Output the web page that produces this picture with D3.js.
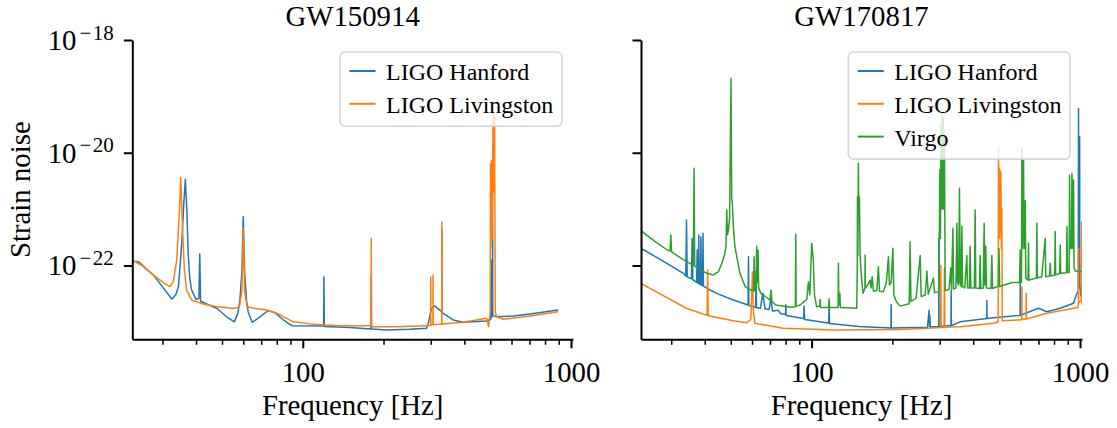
<!DOCTYPE html>
<html><head><meta charset="utf-8">
<script src="https://cdn.jsdelivr.net/npm/d3@7"></script>
<style>
body{margin:0;background:#fff}
text{font-family:"Liberation Serif","Times New Roman",serif;fill:#000}
</style>
</head><body>
<svg id="c" width="1117" height="428"></svg>
<script>
// ---------- data (frequency in Hz, strain noise) ----------
const events = ["GW150914", "GW170817"];
const detectorNames = ["LIGO Hanford", "LIGO Livingston", "Virgo"];
const detectorColors = ["#1f77b4", "#ff7f0e", "#2ca02c"];
const xTicks = [100, 1000];
const xMinorTicks = [30,40,50,60,70,80,90,200,300,400,500,600,700,800,900];
const yTicks = [1e-18, 1e-20, 1e-22];
const yTickExponents = ["−18", "−20", "−22"];
const xDomain = [23.15, 1017];
const yDomain = [4.9e-24, 1e-18];

const hanford150914 = [[23.15,1.17e-22],[24.1,1.18e-22],[24.7,1.12e-22],[26.0,8.8e-23],[27.7,6.8e-23],[30.2,4.0e-23],[32.5,2.54e-23],[33.6,3.0e-23],[34.4,4.2e-23],[35.4,2.5e-22],[36.0,1.2e-21],[36.5,3.38e-21],[37.0,9.0e-22],[37.4,1.6e-22],[37.9,6e-23],[38.5,3.7e-23],[40.0,2.5e-23],[41.0,2.6e-23],[41.3,1.6e-22],[41.6,2.3e-23],[42.0,2.28e-23],[43.8,2.07e-23],[47.8,1.74e-23],[52.0,1.23e-23],[55.6,1.0e-23],[57.2,1.4e-23],[58.3,2.44e-23],[59.3,8e-23],[60.0,7.3e-22],[60.7,8e-23],[61.7,2.4e-23],[62.6,1.5e-23],[64.8,9.8e-24],[69.3,1.23e-23],[74.3,1.58e-23],[78.8,1.45e-23],[84.6,1.08e-23],[90.9,8.55e-24],[119.6,8.4e-24],[119.9,6.3e-23],[120.3,8.3e-24],[150,7.9e-24],[179.6,7.5e-24],[180,6.6e-23],[180.4,7.5e-24],[205,7.2e-24],[250,7.4e-24],[289.6,7.7e-24],[293.7,9.4e-24],[302,1.74e-23],[311,1.91e-23],[325,1.6e-23],[329.6,1.5e-23],[330,4.4e-22],[330.4,1.45e-23],[334,1.42e-23],[363.8,1.08e-23],[396.5,9.8e-24],[484.6,1.04e-23],[502,1.1e-23],[504,1.25e-22],[506,1.2e-23],[509.3,1.3e-23],[510,2.0e-21],[510.7,1.3e-23],[528,1.23e-23],[609,1.27e-23],[703,1.38e-23],[896,1.62e-23]];

const livingston150914 = [[23.15,1.25e-22],[25.5,9.5e-23],[27.7,6.8e-23],[30.2,4.95e-23],[32.0,4.2e-23],[32.9,5.15e-23],[33.9,1.25e-22],[34.7,9.65e-22],[35.1,3.66e-21],[35.6,4.9e-22],[36.2,8.3e-23],[36.9,3.67e-23],[38.5,2.44e-23],[42.6,2.07e-23],[47.8,1.86e-23],[55.1,1.74e-23],[58.0,1.8e-23],[59.3,3.5e-23],[60.0,4.56e-22],[60.7,3.5e-23],[62.0,1.85e-23],[66,1.75e-23],[73.4,1.62e-23],[79.9,1.42e-23],[92.2,1.0e-23],[106.4,9.2e-24],[137.6,8.55e-24],[179.6,8.55e-24],[180,3.03e-22],[180.4,8.2e-24],[223.9,8.2e-24],[289.6,8.55e-24],[299.6,8.6e-24],[300,6.17e-23],[300.4,8.8e-24],[305.6,9e-24],[306,6.78e-23],[306.4,9e-24],[329.6,9.1e-24],[330,5.98e-22],[330.4,9.2e-24],[396.5,9.8e-24],[484.6,1.16e-23],[493,8.2e-24],[499.5,1.5e-23],[501,6.3e-21],[502.5,2e-22],[505.4,7.3e-21],[508,3e-22],[512,5.28e-20],[515,2e-21],[518.6,4.93e-20],[522,1.5e-23],[528,1.23e-23],[559,1.11e-23],[703,1.27e-23],[896,1.51e-23]];

const hanford170817 = [[23.15,2.02e-22],[28.9,1.09e-22],[33.3,7.26e-23],[34.0,6.5e-23],[34.2,6.4e-22],[34.4,6.3e-23],[35.7,5.8e-23],[35.9,3.03e-22],[36.1,5.6e-23],[37.3,5.0e-23],[37.5,1.88e-22],[37.7,4.9e-23],[37.85,4.8e-23],[38.0,3.47e-22],[38.15,4.7e-23],[38.55,4.6e-23],[38.7,3.24e-22],[38.85,4.5e-23],[39.25,4.4e-23],[39.4,3.72e-22],[39.55,4.3e-23],[41.8,3.67e-23],[45,3.1e-23],[51.1,2.44e-23],[58.0,1.99e-23],[58.2,1.43e-22],[58.4,1.95e-23],[61.9,1.8e-23],[62.1,8e-23],[62.3,1.8e-23],[64.5,1.75e-23],[65.8,3.2e-23],[67.1,1.7e-23],[69.5,1.65e-23],[70.5,2.6e-23],[71.5,1.55e-23],[75.2,1.6e-23],[76.5,1.4e-23],[80.0,1.35e-23],[80.2,2.0e-23],[80.4,1.3e-23],[93.4,1.15e-23],[93.8,1.9e-23],[94.2,1.1e-23],[115.8,9.5e-24],[116.2,2.0e-23],[116.6,9.3e-24],[150,8.3e-24],[197.5,7.8e-24],[197.9,2.0e-23],[198.3,7.8e-24],[270,8e-24],[274.1,1.6e-23],[275,8.1e-24],[275.8,1.3e-23],[277,8.1e-24],[297.6,8.3e-24],[298,3.03e-22],[298.4,8.3e-24],[330.6,8.6e-24],[331.1,3.6e-23],[331.6,8.6e-24],[357.7,1.0e-23],[449.3,1.15e-23],[449.8,2.4e-23],[450.3,1.15e-23],[476,1.18e-23],[598.2,1.3e-23],[598.7,5.5e-23],[599.2,1.3e-23],[610,1.35e-23],[700,1.74e-23],[752.7,1.51e-23],[843.7,1.74e-23],[946,2.13e-23],[973.6,3.2e-23],[985,3.5e-23],[987,6.1e-20],[989,4e-23],[995,4e-23],[996.5,1.93e-20],[998,5e-23],[1005,3e-23],[1016,2.8e-23]];

const livingston170817 = [[23.15,4.83e-23],[28.9,2.68e-23],[34.2,1.74e-23],[40.8,1.3e-23],[41.0,8.3e-23],[41.2,1.28e-23],[51.1,1.05e-23],[57.4,9.66e-24],[59.4,1.1e-23],[60.2,7.76e-23],[60.7,1.6e-23],[61.5,9.4e-24],[78.5,7.67e-24],[120.6,7.16e-24],[213.7,7.3e-24],[268.8,7.67e-24],[302,7.9e-24],[303,1.0e-22],[304,7.9e-24],[311.5,8e-24],[312.5,9e-23],[313.5,8e-24],[357.7,8.2e-24],[476,9.42e-24],[495.5,1.0e-23],[496.9,1.28e-20],[498.2,5e-22],[500,5.3e-21],[501.5,3e-22],[503,5.0e-21],[505,4e-22],[507,4.5e-21],[509.5,2e-22],[511.5,1e-21],[513,1.05e-23],[598.7,1.08e-23],[606.8,1.1e-23],[607.4,4.2e-23],[608,1.1e-23],[629.7,1.12e-23],[630.3,3.2e-23],[631,1.12e-23],[752.7,1.42e-23],[946,1.74e-23],[980,1.8e-23],[986,2e-23],[987,2.02e-22],[988,2.2e-23],[1000,2.3e-23],[1010,2.4e-23],[1015,5.98e-22],[1016.5,2.0e-23]];

const virgo170817 = [[23.15,4.14e-22],[26.0,2.7e-22],[28.9,1.9e-22],[29.7,1.8e-22],[29.9,3.47e-22],[30.1,1.75e-22],[33.0,1.3e-22],[36.3,1.0e-22],[36.5,5.3e-21],[36.7,9.7e-23],[38.4,8.3e-23],[41.0,7.2e-23],[43.1,6.8e-23],[45.0,7.8e-23],[46.3,1.09e-22],[47.5,1.6e-22],[48.0,2.2e-22],[48.3,9.6e-22],[48.6,3.5e-22],[49.0,4.2e-22],[49.5,7.0e-22],[50.1,2.09e-19],[50.4,1.56e-21],[50.7,1.2e-21],[51.1,5.0e-22],[51.8,2.15e-22],[54.1,7.26e-23],[56.6,4.2e-23],[59.3,3.67e-23],[60.8,3.5e-23],[61.1,1.43e-22],[61.4,3.6e-23],[62.1,3.6e-23],[62.4,2.2e-22],[62.7,5e-23],[63.0,5e-23],[63.2,1.88e-22],[63.5,4e-23],[64.7,3.21e-23],[70.0,2.44e-23],[70.6,3.67e-23],[71.2,2.3e-23],[73.5,1.99e-23],[83.4,1.82e-23],[87.0,1.85e-23],[87.3,3.6e-22],[87.6,1.9e-23],[90.6,1.99e-23],[96.0,2.5e-23],[97.3,5.15e-23],[98.5,3e-23],[100.1,2.46e-22],[101.5,1.3e-22],[102.5,3e-23],[104.4,1.86e-23],[107.2,1.9e-23],[107.6,2.5e-23],[108,1.8e-23],[115.8,1.8e-23],[116.2,2.58e-23],[116.6,1.8e-23],[125.5,1.8e-23],[125.9,1.09e-22],[126.3,2e-23],[127.2,2e-23],[127.5,3.2e-23],[128,1.8e-23],[147.3,1.74e-23],[148.0,9.2e-23],[148.2,1.66e-21],[148.7,1.5e-22],[149.4,6.5e-21],[150.0,8.4e-22],[150.7,1.66e-21],[151.6,1.5e-22],[153.5,6e-23],[155.5,3.21e-23],[158.0,4e-23],[158.3,1.53e-22],[158.6,4e-23],[162.0,4.5e-23],[165.2,5.52e-23],[166.5,4e-23],[168.1,6.3e-23],[170,3.5e-23],[175,3.6e-23],[177.4,9.5e-23],[179,3.5e-23],[185,3.43e-23],[190,5e-23],[193.3,1.43e-22],[195,4.5e-23],[198,5e-23],[200.8,2.02e-22],[202.5,3e-23],[207,2.28e-23],[213.7,1.9e-23],[231,2.1e-23],[232.8,2.64e-22],[234.5,2.3e-23],[245,2.6e-23],[253.8,1.5e-22],[256,2.8e-23],[265,3e-23],[268.8,8e-23],[272,3.1e-23],[284.4,6e-23],[287,3.3e-23],[298,3.4e-23],[300.5,5e-21],[302,3e-22],[303.5,3e-20],[305,1e-21],[306.5,5.35e-20],[308,1e-21],[309.5,4e-20],[311,1e-21],[312.5,2e-20],[314.5,3.6e-23],[325,3.7e-23],[330,9e-23],[332,3.8e-23],[336,4.57e-22],[338,3.8e-23],[345,4e-23],[347.8,5.6e-22],[350,5e-23],[353,4.5e-23],[355.5,2.34e-21],[358,5e-23],[361,4.2e-23],[362.9,5e-22],[365,4.2e-23],[372,4e-23],[378.8,1.5e-22],[381,4e-23],[387,4e-23],[389.7,2.2e-22],[392,4e-23],[404,4e-23],[406.8,9.6e-22],[409,4e-23],[422,3.9e-23],[424.6,1.5e-22],[427,3.9e-23],[436,4e-23],[439.4,5.6e-22],[442,4.5e-23],[445.5,2.2e-22],[448,4e-23],[466,3.9e-23],[469.5,1.5e-22],[472,3.9e-23],[490,4.2e-23],[496,4.3e-23],[499,2e-22],[502,4.2e-23],[520,4.5e-23],[560,5e-23],[595,5e-23],[598.7,1.88e-22],[601,5e-23],[605,5e-23],[607.4,1.2e-20],[610,2e-22],[613,1e-21],[616,7.43e-21],[619,2e-22],[622,1e-21],[625,1.4e-21],[628,6e-23],[640,5.5e-23],[642.7,2.5e-22],[645,5.5e-23],[688,6e-23],[690.7,5.6e-22],[693,6e-23],[720,6.3e-23],[741.9,3e-22],[745,6.3e-23],[770,6.5e-23],[774,1.1e-22],[778,6.5e-23],[805,6.8e-23],[808.2,4e-22],[811,6.8e-23],[840,7.2e-23],[843.7,2.3e-22],[847,7.3e-23],[890,7.4e-23],[894,4.9e-22],[898,7.5e-23],[911,7.5e-23],[914,4e-21],[918,2e-22],[929,2e-22],[933,4.3e-21],[938,2e-22],[942,2e-22],[946,3.3e-21],[950,9e-23],[960,8e-23],[980,7.8e-23],[1016,7.8e-23]];

// ---------- layout ----------
const svg = d3.select("#c");
const yTop = 40, yBot = 339.3;
const y = d3.scaleLog().domain(yDomain).range([yBot, yTop]);

const panels = [
  {title: events[0], x0: 132.3, x1: 573, showYLabels: true, legendX: 340, legendW: 222,
   series: [{name: detectorNames[0], color: detectorColors[0], data: hanford150914},
            {name: detectorNames[1], color: detectorColors[1], data: livingston150914}]},
  {title: events[1], x0: 641, x1: 1082, showYLabels: false, legendX: 848.3, legendW: 221.7,
   series: [{name: detectorNames[0], color: detectorColors[0], data: hanford170817},
            {name: detectorNames[1], color: detectorColors[1], data: livingston170817},
            {name: detectorNames[2], color: detectorColors[2], data: virgo170817}]}
];

panels.forEach((p, pi) => {
  const x = d3.scaleLog().domain(xDomain).range([p.x0, p.x1]);
  const g = svg.append("g");
  const clipId = "clip" + pi;
  svg.append("clipPath").attr("id", clipId).append("rect")
    .attr("x", p.x0).attr("y", yTop).attr("width", p.x1 - p.x0).attr("height", yBot - yTop);

  const line = d3.line().x(d => x(d[0])).y(d => y(d[1]));
  const lg = g.append("g").attr("clip-path", `url(#${clipId})`);
  p.series.forEach(s => {
    lg.append("path").datum(s.data).attr("d", line)
      .attr("fill", "none").attr("stroke", s.color).attr("stroke-width", 1.5)
      .attr("stroke-linejoin", "round");
  });

  // x axis
  const xa = g.append("g").attr("transform", `translate(0,${yBot})`)
    .call(d3.axisBottom(x).tickValues(xTicks).tickFormat(d3.format("d")).tickSize(9).tickSizeOuter(0));
  xa.select(".domain").attr("stroke-width", 2);
  xa.selectAll(".tick line").attr("stroke-width", 2);
  xa.selectAll(".tick text").attr("y", 43).attr("dy", 0)
    .style("font-size", "28.8px").style("font-family", "Liberation Serif");
  const xm = g.append("g").attr("transform", `translate(0,${yBot})`)
    .call(d3.axisBottom(x).tickValues(xMinorTicks).tickFormat("").tickSize(5.5).tickSizeOuter(0));
  xm.select(".domain").remove();
  xm.selectAll(".tick line").attr("stroke-width", 1.5);

  // y axis
  const ya = g.append("g").attr("transform", `translate(${p.x0},0)`)
    .call(d3.axisLeft(y).tickValues(yTicks).tickFormat("").tickSize(8.5).tickSizeOuter(0));
  ya.select(".domain").attr("stroke-width", 2);
  ya.selectAll(".tick line").attr("stroke-width", 2);
  if (p.showYLabels) {
    yTicks.forEach((t, i) => {
      const tx = g.append("text").attr("x", p.x0 - 18.5).attr("y", y(t) + 10)
        .attr("text-anchor", "end").style("font-size", "28.8px");
      tx.append("tspan").text("10");
      tx.append("tspan").attr("dx", 3).attr("dy", -10.5).style("font-size", "21px").text(yTickExponents[i].charAt(0));
      tx.append("tspan").attr("dx", 1.5).style("font-size", "21px").text(yTickExponents[i].slice(1));
    });
    svg.append("text").attr("transform", `translate(30,${(yTop + yBot) / 2}) rotate(-90)`)
      .attr("text-anchor", "middle").style("font-size", "28.8px").text("Strain noise");
  }

  // title and x label
  const cx = (p.x0 + p.x1) / 2;
  svg.append("text").attr("x", cx).attr("y", 25.5).attr("text-anchor", "middle")
    .style("font-size", "28.8px").text(p.title);
  svg.append("text").attr("x", cx).attr("y", 415).attr("text-anchor", "middle")
    .style("font-size", "28.8px").text("Frequency [Hz]");

  // legend
  const n = p.series.length;
  const lgd = svg.append("g");
  lgd.append("rect").attr("x", p.legendX).attr("y", 52).attr("width", p.legendW)
    .attr("height", 41.5 + (n - 1) * 32.8).attr("rx", 5).attr("ry", 5)
    .attr("fill", "rgba(255,255,255,0.8)").attr("stroke", "rgba(204,204,204,0.8)").attr("stroke-width", 1.6);
  p.series.forEach((s, i) => {
    const ry = 71 + i * 32.8;
    lgd.append("line").attr("x1", p.legendX + 9.5).attr("x2", p.legendX + 35.5)
      .attr("y1", ry).attr("y2", ry).attr("stroke", s.color).attr("stroke-width", 2);
    lgd.append("text").attr("x", p.legendX + 46).attr("y", ry + 9)
      .style("font-size", "24px").text(s.name);
  });
});
</script>
</body></html>
